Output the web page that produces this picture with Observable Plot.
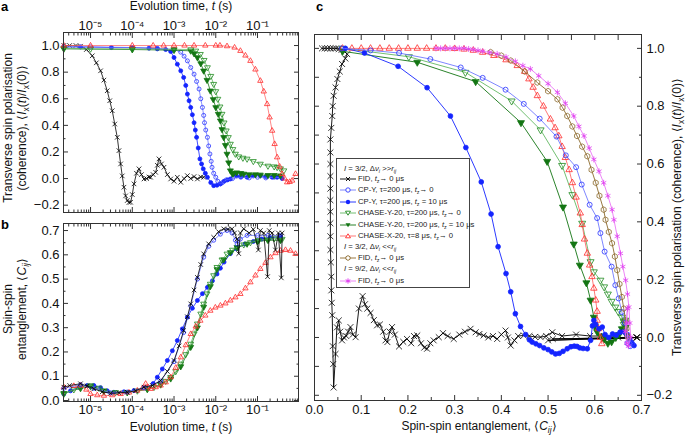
<!DOCTYPE html>
<html><head><meta charset="utf-8">
<script src="https://cdn.jsdelivr.net/npm/d3@7"></script>
<script src="https://cdn.jsdelivr.net/npm/@observablehq/plot@0.6"></script>
<style>
body{margin:0;background:#fff;font-family:"Liberation Sans",Arial,Helvetica,sans-serif;}
#wrap{position:relative;width:685px;height:436px;overflow:hidden;background:#fff;}
.lab{position:absolute;white-space:nowrap;font-size:12px;color:#111;transform:translate(-50%,-50%);line-height:14px;text-align:center;}
.rot{transform:translate(-50%,-50%) rotate(-90deg);}
sub{font-size:70%;vertical-align:-0.3em;line-height:0;}
.pl{position:absolute;font-weight:bold;font-size:13px;line-height:13px;}
#legend{position:absolute;left:336px;top:158px;width:132px;height:128px;border:1px solid #444;background:#fff;font-size:7.7px;color:#222;}
.row{position:absolute;white-space:nowrap;height:10px;line-height:10px;}
.row svg{position:absolute;left:2px;top:0;}
</style></head><body><div id="wrap"></div>
<script>
// ---------- tick labels ----------
const decadeTicks = [1e-5, 1e-4, 1e-3, 1e-2, 1e-1];
const decadeLabels = ["10⁻⁵", "10⁻⁴", "10⁻³", "10⁻²", "10⁻¹"];
const aYMajor = [-0.2, 0, 0.2, 0.4, 0.6, 0.8, 1.0];
const aYMinor = [-0.1, 0.1, 0.3, 0.5, 0.7, 0.9];
const bYMajor = [0, 0.1, 0.2, 0.3, 0.4, 0.5, 0.6, 0.7];
const bYMinor = [0.05, 0.15, 0.25, 0.35, 0.45, 0.55, 0.65];
const cXMajor = [0, 0.1, 0.2, 0.3, 0.4, 0.5, 0.6, 0.7];
const cXMinor = [0.05, 0.15, 0.25, 0.35, 0.45, 0.55, 0.65];
const cYMajor = [-0.2, 0, 0.2, 0.4, 0.6, 0.8, 1.0];
const cYMinor = [-0.1, 0.1, 0.3, 0.5, 0.7, 0.9];

// ---------- panel a: transverse polarisation vs time ----------
const aFidT = [2.29e-6,3.16e-6,4.47e-6,5.75e-6,7.94e-6,1.10e-5,1.38e-5,1.74e-5,2.09e-5,2.51e-5,2.88e-5,3.31e-5,3.80e-5,4.37e-5,4.79e-5,5.25e-5,5.75e-5,6.31e-5,6.92e-5,7.59e-5,8.32e-5,9.12e-5,1.0e-4,1.10e-4,1.26e-4,1.45e-4,1.66e-4,1.91e-4,2.19e-4,2.51e-4,2.75e-4,3.16e-4,3.63e-4,3.98e-4,4.37e-4,5.01e-4,5.75e-4,6.92e-4,8.32e-4,1.0e-3,1.20e-3,1.45e-3,1.74e-3,2.09e-3,2.51e-3,3.02e-3,3.63e-3,4.37e-3,5.13e-3];
const aFidI = [1.0,1.0,1.0,0.995,0.97,0.923,0.87,0.81,0.74,0.66,0.585,0.51,0.41,0.31,0.21,0.11,0.02,-0.065,-0.13,-0.165,-0.18,-0.178,-0.12,-0.04,0.04,0.073,0.03,-0.003,0.0,0.012,0.01,0.03,0.047,0.1,0.148,0.11,0.085,0.03,-0.003,-0.02,0.01,-0.028,0.0,0.022,0.0,0.015,-0.003,0.012,0.01];
const aCpOpenT = [2.29e-6,1e-5,1e-4,3.98e-4,1e-3,1.45e-3,1.74e-3,2.09e-3,2.51e-3,3.02e-3,3.47e-3,3.98e-3,4.37e-3,4.79e-3,5.13e-3,5.37e-3,5.75e-3,6.31e-3,6.76e-3,7.24e-3,7.76e-3,8.13e-3,8.91e-3,1e-2,1.12e-2,1.29e-2,1.45e-2,1.78e-2,2.51e-2,3.98e-2,6.31e-2,0.1,0.158,0.251,0.389];
const aCpOpenI = [0.99,0.99,0.985,0.98,0.97,0.95,0.92,0.885,0.835,0.785,0.73,0.673,0.6,0.535,0.475,0.42,0.365,0.31,0.245,0.185,0.13,0.085,0.04,0.01,-0.02,-0.04,-0.03,-0.01,0.0,0.01,0.005,0.01,0.005,0.01,0.005];
const aCpFillT = [2.29e-6,5.75e-6,3.16e-5,1e-4,2.51e-4,3.98e-4,6.31e-4,8.32e-4,1e-3,1.2e-3,1.45e-3,1.7e-3,1.91e-3,2.09e-3,2.29e-3,2.51e-3,2.75e-3,3.02e-3,3.24e-3,3.47e-3,3.8e-3,4.17e-3,4.57e-3,5.01e-3,5.62e-3,6.31e-3,7.59e-3,8.91e-3,1.07e-2,1.29e-2,1.58e-2,1.91e-2,2.24e-2,2.69e-2,3.16e-2,3.98e-2,5.62e-2,7.94e-2,0.117,0.158,0.224,0.295,0.389];
const aCpFillI = [0.99,0.99,0.985,0.985,0.98,0.975,0.97,0.955,0.91,0.86,0.81,0.76,0.70,0.635,0.585,0.535,0.48,0.42,0.365,0.31,0.23,0.148,0.11,0.073,0.04,0.01,-0.03,-0.053,-0.05,-0.04,-0.02,-0.01,-0.003,0.035,0.02,0.015,0.01,0.02,0.022,0.015,0.01,0.01,0.0];
const aCyOpenT = [2.29e-6,1e-5,1e-4,1e-3,2.51e-3,3.31e-3,4.27e-3,5.25e-3,6.31e-3,7.59e-3,8.91e-3,1e-2,1.12e-2,1.26e-2,1.41e-2,1.58e-2,1.78e-2,2e-2,2.24e-2,2.57e-2,2.95e-2,3.55e-2,4.47e-2,5.62e-2,7.94e-2,0.117,0.178,0.251,0.295,0.355,0.427];
const aCyOpenI = [0.98,0.975,0.975,0.972,0.97,0.96,0.935,0.89,0.835,0.77,0.71,0.655,0.598,0.54,0.485,0.42,0.36,0.31,0.26,0.22,0.185,0.165,0.155,0.148,0.13,0.11,0.095,0.09,0.085,0.075,0.06];
const aCyFillT = [2.29e-6,1e-4,1e-3,2.51e-3,3.02e-3,3.63e-3,4.37e-3,5.13e-3,6.17e-3,7.41e-3,8.71e-3,1e-2,1.15e-2,1.29e-2,1.41e-2,1.55e-2,1.7e-2,1.86e-2,2.04e-2,2.24e-2,2.51e-2,2.69e-2,3.16e-2,3.98e-2,4.68e-2,6.31e-2,8.91e-2,0.117,0.178,0.251,0.355];
const aCyFillI = [0.975,0.97,0.965,0.96,0.94,0.91,0.865,0.81,0.74,0.66,0.595,0.535,0.485,0.435,0.37,0.31,0.25,0.185,0.12,0.06,0.035,0.04,0.045,0.04,0.035,0.03,0.03,0.028,0.025,0.025,0.022];
const aCxT = [2.29e-6,1e-5,1e-4,3.16e-4,5.62e-4,1e-3,1.78e-3,3.02e-3,5.62e-3,1e-2,1.26e-2,1.86e-2,2.82e-2,3.89e-2,5.13e-2,6.76e-2,8.91e-2,0.117,0.141,0.17,0.195,0.224,0.257,0.295,0.339,0.389,0.447,0.513,0.589,0.676,0.813];
const aCxI = [1.0,1.0,1.0,1.0,1.0,1.0,1.0,1.0,1.0,1.0,1.0,0.995,0.985,0.96,0.925,0.885,0.82,0.735,0.655,0.56,0.46,0.36,0.26,0.16,0.09,0.035,0.0,-0.028,-0.025,-0.015,0.035];

// ---------- panel b: entanglement vs time ----------
const bFidT = [2.29e-6,3.16e-6,5.75e-6,8.32e-6,1.2e-5,1.91e-5,3.02e-5,4.79e-5,7.59e-5,1.2e-4,1.91e-4,3.02e-4,4.79e-4,6.92e-4,1e-3,1.32e-3,1.7e-3,2.09e-3,2.51e-3,3.02e-3,3.63e-3,4.37e-3,5.13e-3,6.76e-3,8.91e-3,1.17e-2,1.55e-2,1.95e-2,2.45e-2,2.82e-2,3.24e-2,3.55e-2,3.89e-2,4.68e-2,6.31e-2,7.94e-2,0.105,0.117,0.141,0.174,0.191,0.224,0.269,0.316,0.372,0.389];
const bFidC = [0.055,0.062,0.069,0.06,0.048,0.036,0.03,0.032,0.034,0.04,0.055,0.062,0.082,0.12,0.165,0.225,0.288,0.345,0.398,0.455,0.507,0.56,0.604,0.645,0.672,0.695,0.707,0.705,0.707,0.69,0.665,0.605,0.69,0.707,0.69,0.705,0.62,0.7,0.69,0.51,0.7,0.69,0.62,0.69,0.505,0.69];
const bCpOpenT = [2.29e-6,5.75e-6,1.2e-5,3.02e-5,7.59e-5,1.91e-4,4.79e-4,1e-3,1.7e-3,2.51e-3,3.63e-3,5.13e-3,6.76e-3,8.91e-3,1.29e-2,1.86e-2,2.45e-2,2.95e-2,3.24e-2,3.89e-2,5.62e-2,0.1,0.178,0.355];
const bCpOpenC = [0.05,0.065,0.05,0.032,0.035,0.052,0.08,0.16,0.28,0.39,0.5,0.59,0.635,0.66,0.685,0.7,0.69,0.66,0.645,0.665,0.68,0.68,0.68,0.68];
const bCpFillT = [2.29e-6,3.31e-6,5.25e-6,8.32e-6,1.2e-5,1.74e-5,2.51e-5,3.63e-5,6.31e-5,1.1e-4,2.29e-4,3.16e-4,3.98e-4,5.25e-4,6.92e-4,9.12e-4,1.2e-3,1.58e-3,2.09e-3,2.75e-3,3.63e-3,4.79e-3,6.31e-3,8.32e-3,1.07e-2,1.29e-2,1.58e-2,2.24e-2,3.16e-2,5.01e-2,7.94e-2,0.126,0.2,0.355];
const bCpFillC = [0.027,0.04,0.055,0.062,0.062,0.053,0.04,0.034,0.036,0.041,0.048,0.07,0.096,0.13,0.165,0.205,0.247,0.295,0.343,0.38,0.412,0.44,0.466,0.493,0.521,0.545,0.57,0.605,0.625,0.645,0.655,0.665,0.67,0.675];
const bCyOpenT = [2.29e-6,3.98e-6,5.75e-6,1e-5,1.58e-5,2.09e-5,3.98e-5,7.59e-5,1.32e-4,2.29e-4,3.31e-4,4.79e-4,6.31e-4,8.32e-4,1.1e-3,1.45e-3,1.91e-3,2.51e-3,3.02e-3,3.63e-3,4.37e-3,5.13e-3,6.17e-3,7.41e-3,8.91e-3,1.07e-2,1.41e-2,1.86e-2,2.51e-2,3.24e-2,4.68e-2,6.76e-2,0.107,0.17,0.251,0.389];
const bCyOpenC = [0.027,0.045,0.055,0.062,0.052,0.041,0.034,0.034,0.04,0.048,0.055,0.069,0.08,0.096,0.12,0.151,0.19,0.233,0.275,0.316,0.357,0.398,0.44,0.48,0.515,0.549,0.58,0.604,0.62,0.631,0.642,0.651,0.66,0.665,0.667,0.665];
const bCyFillT = [2.29e-6,5.75e-6,1e-5,2.09e-5,7.59e-5,2.29e-4,4.79e-4,8.32e-4,1.45e-3,2.51e-3,3.63e-3,5.13e-3,7.41e-3,1.07e-2,1.55e-2,2.24e-2,3.24e-2,5.62e-2,0.1,0.178,0.355];
const bCyFillC = [0.03,0.05,0.058,0.038,0.033,0.046,0.065,0.09,0.14,0.22,0.3,0.385,0.47,0.54,0.58,0.61,0.63,0.645,0.655,0.66,0.66];
const bCxT = [2.29e-6,3.98e-6,5.75e-6,7.94e-6,1e-5,1.45e-5,2.09e-5,3.31e-5,5.25e-5,8.32e-5,1.32e-4,1.74e-4,2.09e-4,2.4e-4,2.75e-4,3.63e-4,4.79e-4,6.31e-4,8.32e-4,1.1e-3,1.45e-3,1.91e-3,2.51e-3,3.31e-3,4.27e-3,5.62e-3,7.41e-3,9.77e-3,1.29e-2,1.7e-2,2.24e-2,2.95e-2,3.89e-2,5.13e-2,6.76e-2,8.91e-2,0.117,0.155,0.204,0.269,0.355,0.468,0.617,0.813];
const bCxC = [0.055,0.06,0.062,0.045,0.027,0.022,0.02,0.022,0.027,0.033,0.041,0.05,0.069,0.055,0.048,0.055,0.062,0.075,0.096,0.135,0.178,0.228,0.274,0.305,0.329,0.35,0.37,0.383,0.391,0.4,0.412,0.425,0.439,0.462,0.487,0.515,0.542,0.567,0.59,0.607,0.617,0.62,0.617,0.604];

// ---------- panel c: polarisation vs entanglement ----------
const cFidC = [0.016,0.022,0.028,0.034,0.04,0.046,0.052,0.058,0.064,0.07,0.066,0.059,0.054,0.049,0.045,0.041,0.039,0.038,0.036,0.034,0.034,0.034,0.034,0.034,0.034,0.034,0.034,0.034,0.034,0.035,0.036,0.036,0.037,0.038,0.039,0.04,0.041,0.045,0.048,0.052,0.055,0.059,0.063,0.068,0.072,0.077,0.082,0.088,0.095,0.103,0.108,0.113,0.12,0.127,0.134,0.14,0.147,0.152,0.156,0.161,0.166,0.172,0.181,0.19,0.198,0.207,0.213,0.22,0.228,0.235,0.241,0.248,0.255,0.266,0.275,0.285,0.298,0.31,0.322,0.334,0.345,0.353,0.362,0.372,0.382,0.391,0.4,0.409,0.414,0.42,0.428,0.436,0.448,0.46,0.472,0.484,0.496,0.509,0.53,0.56,0.59,0.62,0.65,0.69,0.62,0.69,0.51,0.69,0.5,0.69];
const cFidI = [1.0,1.0,1.0,1.0,1.0,1.0,0.998,0.995,0.99,0.98,0.965,0.946,0.92,0.894,0.865,0.836,0.8,0.766,0.725,0.685,0.64,0.6,0.558,0.515,0.475,0.435,0.395,0.35,0.303,0.26,0.21,0.163,0.12,0.077,-0.03,-0.092,-0.173,-0.057,0.035,0.059,0.02,-0.01,0.0,0.005,0.02,0.036,0.01,0.001,0.1,0.143,0.115,0.1,0.085,0.06,0.042,0.045,0.02,-0.01,-0.016,0.02,0.036,0.01,-0.031,-0.015,-0.005,-0.02,0.005,0.007,-0.02,-0.035,-0.039,-0.02,-0.01,0.001,0.015,0.005,-0.005,0.01,0.02,0.03,0.018,0.012,0.007,0.0,0.005,-0.005,0.01,0.024,0.0,-0.028,-0.01,0.005,0.007,0.005,0.002,0.001,0.005,0.018,0.005,0.01,0.005,0.005,0.0,0.0,-0.005,0.0,-0.005,0.0,-0.01,0.0];
const cCpOpenC = [0.058,0.12,0.181,0.248,0.313,0.36,0.409,0.448,0.482,0.518,0.538,0.56,0.572,0.589,0.605,0.612,0.621,0.636,0.644,0.651,0.658,0.664,0.67,0.675,0.68,0.676,0.67];
const cCpOpenI = [1.0,0.993,0.984,0.963,0.934,0.898,0.857,0.808,0.757,0.695,0.63,0.589,0.529,0.459,0.413,0.361,0.297,0.245,0.181,0.135,0.088,0.05,0.01,-0.01,-0.022,-0.03,-0.02];
const cCpFillC = [0.066,0.107,0.179,0.241,0.291,0.324,0.357,0.378,0.393,0.41,0.42,0.43,0.441,0.452,0.46,0.466,0.474,0.482,0.491,0.5,0.508,0.516,0.524,0.532,0.541,0.549,0.556,0.562,0.568,0.575,0.584,0.591,0.595,0.598,0.602,0.609,0.616,0.622,0.63,0.638,0.646,0.654,0.662,0.668,0.674,0.679,0.684];
const cCpFillI = [1.0,0.984,0.938,0.864,0.766,0.657,0.538,0.427,0.314,0.221,0.158,0.082,0.038,0.01,-0.008,-0.016,-0.022,-0.028,-0.036,-0.042,-0.05,-0.057,-0.055,-0.048,-0.039,-0.032,-0.03,-0.031,-0.036,-0.038,-0.039,-0.01,0.04,0.059,0.045,0.03,0.036,0.01,0.0,0.012,0.008,0.018,0.02,0.01,-0.005,-0.018,-0.028];
const cCyOpenC = [0.06,0.202,0.323,0.422,0.484,0.53,0.552,0.573,0.591,0.598,0.612,0.62,0.628,0.636,0.644,0.65,0.658,0.662,0.665,0.662,0.665];
const cCyOpenI = [1.0,0.971,0.917,0.818,0.718,0.595,0.494,0.395,0.262,0.227,0.198,0.175,0.15,0.125,0.105,0.09,0.07,0.055,0.05,0.045,0.06];
const cCyFillC = [0.06,0.22,0.345,0.442,0.498,0.532,0.555,0.568,0.582,0.591,0.598,0.6,0.605,0.612,0.62,0.628,0.636,0.645,0.652,0.658,0.664,0.666];
const cCyFillI = [0.99,0.952,0.885,0.743,0.609,0.451,0.323,0.25,0.189,0.129,0.07,0.04,0.02,0.005,-0.005,-0.02,-0.015,0.0,0.01,0.03,0.02,0.035];
const cCxC = [0.06,0.08,0.1,0.12,0.14,0.16,0.18,0.2,0.22,0.24,0.26,0.28,0.3,0.32,0.34,0.36,0.384,0.41,0.434,0.45,0.459,0.468,0.477,0.49,0.505,0.515,0.523,0.53,0.537,0.545,0.552,0.56,0.569,0.573,0.578,0.584,0.589,0.594,0.598,0.602,0.605,0.605,0.608,0.612,0.615];
const cCxI = [1.0,1.0,1.0,1.0,1.0,1.0,1.0,1.0,1.0,1.0,1.0,1.0,0.999,0.997,0.993,0.986,0.975,0.96,0.94,0.92,0.894,0.865,0.836,0.8,0.755,0.725,0.697,0.66,0.622,0.58,0.535,0.485,0.43,0.39,0.34,0.291,0.25,0.21,0.17,0.129,0.09,0.059,0.03,0.0,-0.022];
const cFidLoC = [0.377,0.4,0.42,0.45,0.477,0.5,0.52,0.531,0.541,0.552,0.562,0.573,0.584,0.593,0.602,0.61,0.619,0.623,0.63,0.637,0.643,0.648,0.653,0.658,0.662,0.666,0.668,0.67,0.672];
const cFidLoI = [0.987,0.975,0.958,0.92,0.882,0.852,0.824,0.795,0.766,0.73,0.697,0.66,0.627,0.58,0.535,0.49,0.442,0.407,0.365,0.326,0.28,0.233,0.185,0.14,0.1,0.059,0.03,0.005,0.0];
const cFid92C = [0.26,0.27,0.28,0.29,0.3,0.31,0.32,0.33,0.34,0.35,0.36,0.375,0.391,0.41,0.43,0.446,0.462,0.48,0.5,0.52,0.537,0.555,0.566,0.577,0.588,0.598,0.609,0.619,0.628,0.637,0.641,0.648,0.655,0.66,0.666,0.67,0.673,0.675,0.677,0.672,0.668,0.67,0.665,0.668];
const cFid92I = [1.0,1.0,1.0,1.0,1.0,1.0,1.0,0.998,0.996,0.993,0.99,0.986,0.981,0.97,0.955,0.94,0.929,0.905,0.878,0.848,0.81,0.766,0.73,0.697,0.655,0.616,0.575,0.535,0.49,0.442,0.407,0.35,0.291,0.245,0.198,0.15,0.105,0.05,0.001,-0.03,0.05,0.1,0.02,-0.02];

// ---------- symbols & styles ----------
const triDown = {draw(ctx, size) {
  const y = -Math.sqrt(size / (Math.sqrt(3) * 3));
  ctx.moveTo(0, -2 * y); ctx.lineTo(-Math.sqrt(3) * y, y); ctx.lineTo(Math.sqrt(3) * y, y); ctx.closePath();
}};
const hexagon = {draw(ctx, size) {
  const r = Math.sqrt(size / (3 * Math.sqrt(3) / 2));
  for (let i = 0; i < 6; i++) { const a = Math.PI / 3 * i + Math.PI / 6; const px = r * Math.cos(a), py = r * Math.sin(a); i ? ctx.lineTo(px, py) : ctx.moveTo(px, py); }
  ctx.closePath();
}};
const ST = {
  fid:    {color: "#000000", line: "#000000", symbol: "times", fill: "none"},
  cpOpen: {color: "#2a35ff", line: "#6f78ff", symbol: "circle", fill: "none"},
  cpFill: {color: "#1424ff", line: "#1424ff", symbol: "circle", fill: "#1424ff"},
  cyOpen: {color: "#1f8a1f", line: "#62b862", symbol: triDown, fill: "none"},
  cyFill: {color: "#137513", line: "#137513", symbol: triDown, fill: "#137513"},
  cx:     {color: "#ff2b2b", line: "#ff6a6a", symbol: "triangle", fill: "none"},
  fidLo:  {color: "#8c6a2c", line: "#8c6a2c", symbol: hexagon, fill: "none"},
  fid92:  {color: "#e03cf0", line: "#ea78f5", symbol: "asterisk", fill: "none"}
};
function zip(xs, ys) { return xs.map((x, i) => ({x, y: ys[i]})); }
function series(xs, ys, st, r, lw) {
  const d = zip(xs, ys);
  return [
    Plot.line(d, {x: "x", y: "y", stroke: st.line, strokeWidth: lw}),
    Plot.dot(d, {x: "x", y: "y", symbol: st.symbol, r, stroke: st.color, fill: st.fill, strokeWidth: 0.8})
  ];
}
function minorLog(lo, hi) {
  const out = [];
  for (let e = -6; e <= 0; e++) for (let k = 2; k <= 9; k++) { const v = k * Math.pow(10, e); if (v > lo && v < hi) out.push(v); }
  return out;
}
function tX(anchor, ticks, size) { return Plot.axisX({anchor, ticks, tickSize: -size, tickFormat: () => "", label: null, stroke: "#333"}); }
function tY(anchor, ticks, size) { return Plot.axisY({anchor, ticks, tickSize: -size, tickFormat: () => "", label: null, stroke: "#333"}); }
const fmt1 = d3.format(".1f");
const decFmt = d => decadeLabels[decadeTicks.indexOf(d)];
const baseStyle = {fontFamily: "'Liberation Sans', Arial, sans-serif", fontSize: "12px", background: "transparent", overflow: "visible", color: "#111"};
const TF = 13;

const xDomAB = [2.25e-6, 0.959];
const minorAB = minorLog(xDomAB[0], xDomAB[1]);

// ---------- plots ----------
const plotA = Plot.plot({
  width: 310, height: 216, marginLeft: 63, marginRight: 12, marginTop: 32, marginBottom: 4,
  style: baseStyle,
  x: {type: "log", domain: xDomAB},
  y: {domain: [-0.255, 1.098]},
  marks: [
    tX("top", decadeTicks, 5), tX("top", minorAB, 2.5), tX("bottom", decadeTicks, 5), tX("bottom", minorAB, 2.5),
    tY("left", aYMajor, 5), tY("left", aYMinor, 2.5), tY("right", aYMajor, 5), tY("right", aYMinor, 2.5),
    Plot.axisX({anchor: "top", ticks: decadeTicks, tickSize: 0, tickPadding: 3, tickFormat: decFmt, label: null, fontSize: TF}),
    Plot.axisY({anchor: "left", ticks: aYMajor, tickSize: 0, tickPadding: 4, tickFormat: fmt1, label: null, fontSize: TF}),
    ...series(aFidT, aFidI, ST.fid, 2.2, 0.8),
    ...series(aCpFillT, aCpFillI, ST.cpFill, 2, 0.8),
    ...series(aCpOpenT, aCpOpenI, ST.cpOpen, 2, 0.8),
    ...series(aCyFillT, aCyFillI, ST.cyFill, 2.2, 0.8),
    ...series(aCyOpenT, aCyOpenI, ST.cyOpen, 2.2, 0.8),
    ...series(aCxT, aCxI, ST.cx, 2, 0.8),
    Plot.frame({stroke: "#333"})
  ]
});

const plotB = Plot.plot({
  width: 310, height: 210, marginLeft: 63, marginRight: 12, marginTop: 11, marginBottom: 21,
  style: baseStyle,
  x: {type: "log", domain: xDomAB},
  y: {domain: [-0.004, 0.729]},
  marks: [
    tX("top", decadeTicks, 5), tX("top", minorAB, 2.5), tX("bottom", decadeTicks, 5), tX("bottom", minorAB, 2.5),
    tY("left", bYMajor, 5), tY("left", bYMinor, 2.5), tY("right", bYMajor, 5), tY("right", bYMinor, 2.5),
    Plot.axisX({anchor: "bottom", ticks: decadeTicks, tickSize: 0, tickPadding: 3, tickFormat: decFmt, label: null, fontSize: TF}),
    Plot.axisY({anchor: "left", ticks: bYMajor, tickSize: 0, tickPadding: 4, tickFormat: fmt1, label: null, fontSize: TF}),
    ...series(bCpFillT, bCpFillC, ST.cpFill, 2, 0.8),
    ...series(bCyFillT, bCyFillC, ST.cyFill, 2.2, 0.8),
    ...series(bCyOpenT, bCyOpenC, ST.cyOpen, 2.2, 0.8),
    ...series(bCxT, bCxC, ST.cx, 2, 0.8),
    ...series(bCpOpenT, bCpOpenC, ST.cpOpen, 2, 0.8),
    ...series(bFidT, bFidC, ST.fid, 2.2, 0.8),
    Plot.frame({stroke: "#333"})
  ]
});

const plotC = Plot.plot({
  width: 385, height: 422, marginLeft: 14, marginRight: 44, marginTop: 34, marginBottom: 22,
  style: baseStyle,
  x: {domain: [0, 0.7]},
  y: {domain: [-0.218, 1.048]},
  marks: [
    tX("top", cXMajor, 5), tX("top", cXMinor, 5), tX("bottom", cXMajor, 5), tX("bottom", cXMinor, 3),
    tY("left", cYMajor, 5), tY("left", cYMinor, 5), tY("right", cYMajor, 5), tY("right", cYMinor, 3),
    Plot.axisX({anchor: "bottom", ticks: cXMajor, tickSize: 0, tickPadding: 4, tickFormat: fmt1, label: null, fontSize: TF}),
    Plot.axisY({anchor: "right", ticks: cYMajor, tickSize: 0, tickPadding: 5, tickFormat: fmt1, label: null, fontSize: TF}),
    ...series(cFidC, cFidI, ST.fid, 2.8, 0.9),
    ...series(cCyFillC, cCyFillI, ST.cyFill, 2.6, 0.9),
    ...series(cCyOpenC, cCyOpenI, ST.cyOpen, 2.6, 0.9),
    ...series(cCxC, cCxI, ST.cx, 2.4, 0.9),
    ...series(cCpFillC, cCpFillI, ST.cpFill, 2.4, 0.9),
    ...series(cCpOpenC, cCpOpenI, ST.cpOpen, 2.5, 0.9),
    ...series(cFidLoC, cFidLoI, ST.fidLo, 2.6, 0.9),
    ...series(cFid92C, cFid92I, ST.fid92, 2.8, 0.9),
    Plot.frame({stroke: "#333"})
  ]
});

const wrap = document.getElementById("wrap");
function place(node, left, top) { const d = document.createElement("div"); d.style.position = "absolute"; d.style.left = left + "px"; d.style.top = top + "px"; d.appendChild(node); wrap.appendChild(d); }
place(plotA, 0, 0);
place(plotB, 0, 212);
place(plotC, 300, 0);

function label(html, x, y, cls) { const d = document.createElement("div"); d.className = "lab" + (cls ? " " + cls : ""); d.style.left = x + "px"; d.style.top = y + "px"; d.innerHTML = html; wrap.appendChild(d); }
label('Evolution time, <i>t</i> (s)', 181, 6);
label('Evolution time, <i>t</i> (s)', 181, 427);
label('Spin-spin entanglement, ⟨<i>C</i><sub><i>ij</i></sub>⟩', 479, 426);
label('Transverse spin polarisation<br>(coherence), ⟨<i>I</i><sub>x</sub>(<i>t</i>)/<i>I</i><sub>x</sub>(0)⟩', 15, 128, "rot");
label('Spin-spin<br>entanglement, ⟨<i>C</i><sub><i>ij</i></sub>⟩', 15, 309, "rot");
label('Transverse spin polarisation (coherence), ⟨<i>I</i><sub>x</sub>(<i>t</i>)/<i>I</i><sub>x</sub>(0)⟩', 677, 217, "rot");

function panelLabel(t, x, y) { const d = document.createElement("div"); d.className = "pl"; d.style.left = x + "px"; d.style.top = y + "px"; d.textContent = t; wrap.appendChild(d); }
panelLabel("a", 1, 0); panelLabel("b", 1, 218); panelLabel("c", 316, 0);

// ---------- legend ----------
const sw = {
  fid: `<line x1="1" y1="5" x2="17" y2="5" stroke="#000" stroke-width="0.9"/><path d="M7,3L11,7M7,7L11,3" stroke="#000" stroke-width="0.9"/>`,
  cpOpen: `<line x1="1" y1="5" x2="17" y2="5" stroke="#6f78ff" stroke-width="0.9"/><circle cx="9" cy="5" r="2.2" fill="#fff" stroke="#2a35ff" stroke-width="0.9"/>`,
  cpFill: `<line x1="1" y1="5" x2="17" y2="5" stroke="#1424ff" stroke-width="0.9"/><circle cx="9" cy="5" r="2.2" fill="#1424ff"/>`,
  cyOpen: `<line x1="1" y1="5" x2="17" y2="5" stroke="#62b862" stroke-width="0.9"/><path d="M6.5,3.2L11.5,3.2L9,7.2Z" fill="#fff" stroke="#1f8a1f" stroke-width="0.9"/>`,
  cyFill: `<line x1="1" y1="5" x2="17" y2="5" stroke="#137513" stroke-width="0.9"/><path d="M6.5,3.2L11.5,3.2L9,7.2Z" fill="#137513"/>`,
  cx: `<line x1="1" y1="5" x2="17" y2="5" stroke="#ff6a6a" stroke-width="0.9"/><path d="M6.5,6.8L11.5,6.8L9,2.8Z" fill="#fff" stroke="#ff2b2b" stroke-width="0.9"/>`,
  fidLo: `<line x1="1" y1="5" x2="17" y2="5" stroke="#8c6a2c" stroke-width="0.9"/><path d="M9,2.6L11.1,3.8L11.1,6.2L9,7.4L6.9,6.2L6.9,3.8Z" fill="#fff" stroke="#8c6a2c" stroke-width="0.9"/>`,
  fid92: `<line x1="1" y1="5" x2="17" y2="5" stroke="#ea78f5" stroke-width="0.9"/><path d="M9,2.4V7.6M6.7,3.7L11.3,6.3M6.7,6.3L11.3,3.7" stroke="#e03cf0" stroke-width="1"/>`
};
const legendRows = [
  {y: 10, head: true, html: '<i>I</i> = 3/2, Δ<i>ν</i><sub><i>i</i></sub> &gt;&gt;<i>r</i><sub><i>ij</i></sub>'},
  {y: 20, sw: "fid", html: 'FID, <i>t</i><sub>z</sub>→ 0 μs'},
  {y: 31, sw: "cpOpen", html: 'CP-Y, τ=200 μs, <i>t</i><sub>z</sub>→ 0'},
  {y: 43, sw: "cpFill", html: 'CP-Y, τ=200 μs, <i>t</i><sub>z</sub> = 10 μs'},
  {y: 54, sw: "cyOpen", html: 'CHASE-Y-20, τ=200 μs, <i>t</i><sub>z</sub>→ 0'},
  {y: 66, sw: "cyFill", html: 'CHASE-Y-20, τ=200 μs, <i>t</i><sub>z</sub> = 10 μs'},
  {y: 77, sw: "cx", html: 'CHASE-X-20, τ=8 μs, <i>t</i><sub>z</sub>→ 0'},
  {y: 88, head: true, html: '<i>I</i> = 3/2, Δ<i>ν</i><sub><i>i</i></sub> &lt;&lt;<i>r</i><sub><i>ij</i></sub>'},
  {y: 99, sw: "fidLo", html: 'FID, <i>t</i><sub>z</sub>→ 0 μs'},
  {y: 110, head: true, html: '<i>I</i> = 9/2, Δ<i>ν</i><sub><i>i</i></sub> &lt;&lt;<i>r</i><sub><i>ij</i></sub>'},
  {y: 122, sw: "fid92", html: 'FID, <i>t</i><sub>z</sub>→ 0 μs'}
];
const leg = document.createElement("div"); leg.id = "legend"; wrap.appendChild(leg);
for (const r of legendRows) {
  const d = document.createElement("div"); d.className = "row";
  d.style.top = (r.y - 5) + "px";
  if (r.head) { d.style.left = "7px"; d.innerHTML = r.html; }
  else {
    d.style.left = "0px";
    d.innerHTML = `<svg width="18" height="10" viewBox="0 0 18 10">${sw[r.sw]}</svg><span style="position:absolute;left:21px;top:0">${r.html}</span>`;
  }
  leg.appendChild(d);
}
</script></body></html>
